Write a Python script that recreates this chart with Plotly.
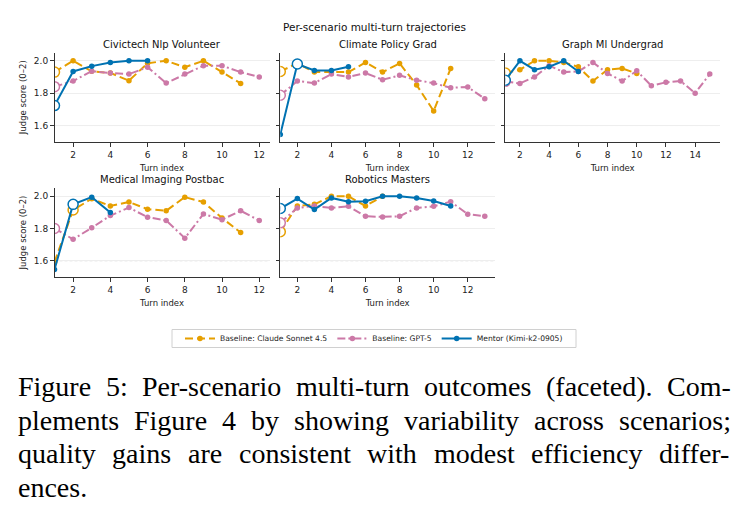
import plotly.graph_objects as go

W, H = 747, 525

# ---------------- data ----------------
suptitle = "Per-scenario multi-turn trajectories"
x_title = "Turn index"
y_title = "Judge score (0–2)"
scenarios = ["Civictech Nlp Volunteer", "Climate Policy Grad", "Graph Ml Undergrad",
             "Medical Imaging Postbac", "Robotics Masters"]
series_names = ["Baseline: Claude Sonnet 4.5", "Baseline: GPT-5", "Mentor (Kimi-k2-0905)"]
threshold = 1.6
y_ticks = [1.6, 1.8, 2.0]

civic_claude = [1.93, 2.00, 1.935, 1.925, 1.877, 1.985, 2.00, 1.96, 2.00, 1.93, 1.86]
civic_gpt5 = [1.84, 1.875, 1.936, 1.924, 1.918, 1.96, 1.862, 1.918, 1.97, 1.97, 1.93, 1.90]
civic_mentor = [1.723, 1.934, 1.967, 1.99, 2.00, 2.00]

climate_claude = [1.934, 1.985, 1.93, 1.93, 1.93, 1.99, 1.93, 1.984, 1.85, 1.69, 1.953]
climate_gpt5 = [1.787, 1.875, 1.862, 1.918, 1.90, 1.924, 1.883, 1.91, 1.88, 1.862, 1.833, 1.838, 1.766]
climate_mentor = [1.545, 1.98, 1.94, 1.94, 1.963]

graph_claude = [1.924, 1.945, 2.00, 2.00, 1.99, 1.963, 1.875, 1.945, 1.953, 1.922]
graph_gpt5 = [1.873, 1.86, 1.90, 1.97, 1.93, 1.934, 1.99, 1.922, 1.875, 1.938, 1.846, 1.867, 1.875, 1.80, 1.918]
graph_mentor = [1.88, 2.00, 1.945, 1.963, 2.00, 1.934]

medical_claude = [1.59, 1.915, 1.985, 1.94, 1.965, 1.92, 1.91, 1.995, 1.965, 1.865, 1.775]
medical_gpt5 = [1.80, 1.733, 1.804, 1.88, 1.93, 1.87, 1.85, 1.74, 1.89, 1.855, 1.91, 1.85]
medical_mentor = [1.545, 1.95, 1.995, 1.90]

robotics_claude = [1.78, 1.94, 1.95, 2.00, 2.00, 1.94, 2.00]
robotics_gpt5 = [1.835, 1.928, 1.94, 1.928, 1.938, 1.876, 1.872, 1.876, 1.928, 1.938, 1.967, 1.889, 1.876]
robotics_mentor = [1.924, 1.986, 1.918, 1.99, 1.967, 1.969, 2.00, 2.00, 1.99, 1.971, 1.94]

claude_scores = [civic_claude, climate_claude, graph_claude, medical_claude, robotics_claude]
gpt5_scores = [civic_gpt5, climate_gpt5, graph_gpt5, medical_gpt5, robotics_gpt5]
mentor_scores = [civic_mentor, climate_mentor, graph_mentor, medical_mentor, robotics_mentor]

# turn highlighted with an open circle, per scenario
claude_mark_turn = [1, 1, 1, 2, 1]
gpt5_mark_turn = [1, 1, 1, 1, 1]
mentor_mark_turn = [1, 2, 1, 2, 1]

caption_lines = [
    "Figure 5: Per-scenario multi-turn outcomes (faceted). Com-",
    "plements Figure 4 by showing variability across scenarios;",
    "quality gains are consistent with modest efficiency differ-",
    "ences.",
]

# ---------------- styles ----------------
colors = ["#E69F00", "#CC79A7", "#0072B2"]
dashes = ["8px,4px", "8px,3px,2px,3px", "solid"]
FONT = "DejaVu Sans"
SERIF = "Liberation Serif, Times New Roman, Times, serif"
AX = "#333333"

cols_px = [(54.5, 269.5), (280.3, 495.0), (505.3, 720.0)]
rows_px = [(52.7, 141.7), (188.3, 276.7)]
positions = [(0, 0), (0, 1), (0, 2), (1, 0), (1, 1)]

fig = go.Figure()
all_series = [claude_scores, gpt5_scores, mentor_scores]
all_marks = [claude_mark_turn, gpt5_mark_turn, mentor_mark_turn]

annotations = []
shapes = []
for p, name in enumerate(scenarios):
    r, c = positions[p]
    xs = "x" if p == 0 else f"x{p+1}"
    ys = "y" if p == 0 else f"y{p+1}"
    n_max = max(len(s[p]) for s in all_series)
    for k in range(3):
        vals = all_series[k][p]
        turns = list(range(1, len(vals) + 1))
        fig.add_trace(go.Scatter(
            x=turns, y=vals, mode="lines+markers", name=series_names[k],
            legendgroup=series_names[k], showlegend=(p == 0),
            line=dict(color=colors[k], width=2, dash=dashes[k]),
            marker=dict(color=colors[k], size=5.5),
            xaxis=xs, yaxis=ys, cliponaxis=True,
        ))
        t = all_marks[k][p]
        fig.add_trace(go.Scatter(
            x=[t], y=[vals[t - 1]], mode="markers", showlegend=False,
            legendgroup=series_names[k], hoverinfo="skip",
            marker=dict(color="white", size=10, line=dict(color=colors[k], width=1.5)),
            xaxis=xs, yaxis=ys, cliponaxis=True,
        ))
    x0, x1 = cols_px[c]
    top, bot = rows_px[r]
    xd = [x0 / W, x1 / W]
    yd = [1 - bot / H, 1 - top / H]
    xkey = "xaxis" if p == 0 else f"xaxis{p+1}"
    ykey = "yaxis" if p == 0 else f"yaxis{p+1}"
    fig.layout[xkey] = dict(
        domain=xd, anchor=ys, range=[1, n_max + 0.05 * (n_max - 1)],
        tick0=0, dtick=2, showgrid=False, zeroline=False,
        showline=True, linecolor=AX, linewidth=1,
        ticks="outside", ticklen=4.5, tickcolor=AX, tickwidth=1,
        tickfont=dict(family=FONT, size=9, color="#222"),
        title=dict(text=x_title, font=dict(family=FONT, size=8.5, color="#222"), standoff=6),
    )
    fig.layout[ykey] = dict(
        domain=yd, anchor=xs, range=[1.5, 2.05],
        tickvals=y_ticks, tickformat=".1f", showticklabels=(c == 0),
        showgrid=True, gridcolor="#eeeeee", gridwidth=0.8, zeroline=False,
        showline=True, linecolor=AX, linewidth=1,
        ticks="outside", ticklen=3.5, tickcolor=AX, tickwidth=1,
        tickfont=dict(family=FONT, size=9, color="#222"),
        title=dict(text=y_title if c == 0 else "", font=dict(family=FONT, size=8.5, color="#222"), standoff=5),
    )
    shapes.append(dict(type="line", xref=f"{xs} domain", yref=ys, x0=0, x1=1,
                       y0=threshold, y1=threshold,
                       line=dict(color="#aaaaaa", width=1, dash="3px,2px"), layer="below"))
    annotations.append(dict(text=name, xref="paper", yref="paper",
                            x=(xd[0] + xd[1]) / 2, y=1 - (top - 8.5) / H,
                            xanchor="center", yanchor="middle", showarrow=False,
                            font=dict(family=FONT, size=10, color="#111")))

annotations.append(dict(text=suptitle, xref="paper", yref="paper", x=374 / W, y=1 - 27 / H,
                        xanchor="center", yanchor="middle", showarrow=False,
                        font=dict(family=FONT, size=10.5, color="#111")))

# legend frame
shapes.append(dict(type="rect", xref="paper", yref="paper",
                   x0=172 / W, x1=576 / W, y0=1 - 347.5 / H, y1=1 - 329.5 / H,
                   line=dict(color="#d0d0d0", width=1), fillcolor="white", layer="below"))

# ---------------- caption (justified, Times metrics) ----------------
TIMES = {" ": 250, "(": 333, ")": 333, "-": 333, ".": 250, ":": 278, ";": 278,
         "4": 500, "5": 500, "a": 444, "b": 500, "c": 444, "d": 500, "e": 444,
         "f": 333, "g": 500, "h": 500, "i": 278, "j": 278, "k": 500, "l": 278,
         "m": 778, "n": 500, "o": 500, "p": 500, "q": 500, "r": 333, "s": 389,
         "t": 278, "u": 500, "v": 500, "w": 722, "x": 500, "y": 500, "z": 444,
         "C": 667, "F": 556, "P": 556}
CAP_SIZE = 28
cap_left, cap_right = 17, 730
cap_y = [386, 420, 453, 487]

def wwidth(w):
    return sum(TIMES.get(ch, 500) for ch in w) / 1000 * CAP_SIZE

for i, line in enumerate(caption_lines):
    words = line.split(" ")
    widths = [wwidth(w) for w in words]
    last = i == len(caption_lines) - 1
    if last or len(words) == 1:
        gap = TIMES[" "] / 1000 * CAP_SIZE
    else:
        gap = (cap_right - cap_left - sum(widths)) / (len(words) - 1)
    xpos = cap_left
    for w, wd in zip(words, widths):
        annotations.append(dict(text=w, xref="paper", yref="paper", x=xpos / W, y=1 - cap_y[i] / H,
                                xanchor="left", yanchor="middle", showarrow=False, borderpad=0,
                                font=dict(family=SERIF, size=CAP_SIZE, color="#000")))
        xpos += wd + gap

fig.update_layout(
    width=W, height=H, margin=dict(l=0, r=0, t=0, b=0),
    paper_bgcolor="white", plot_bgcolor="white",
    font=dict(family=FONT, color="#222"),
    annotations=annotations, shapes=shapes,
    legend=dict(orientation="h", x=374 / W, xanchor="center", y=1 - 338.5 / H, yanchor="middle",
                borderwidth=0, bgcolor="rgba(0,0,0,0)",
                font=dict(family=FONT, size=7.6, color="#222"), itemwidth=30,
                tracegroupgap=0),
    showlegend=True,
)

fig.write_html("out.html")
